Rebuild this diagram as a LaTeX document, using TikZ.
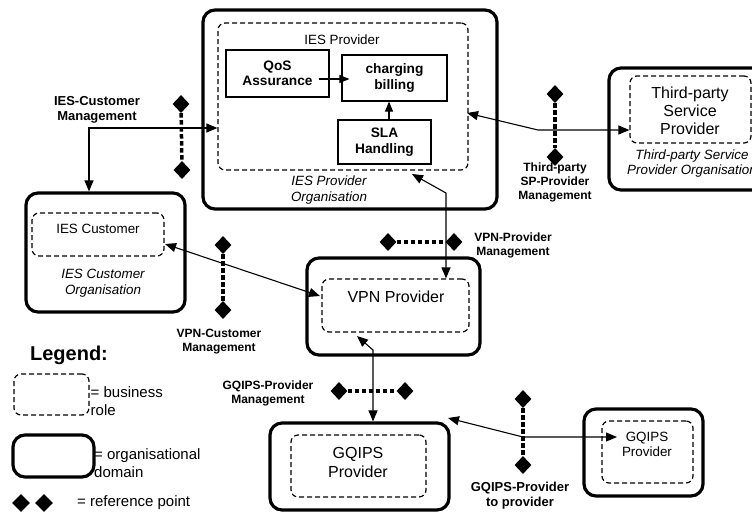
\documentclass[tikz,border=0pt]{standalone}
\usepackage{fontspec}
\setmainfont{Liberation Sans}
\usetikzlibrary{arrows.meta,shapes.geometric,calc}
\begin{document}
\begin{tikzpicture}[x=1pt,y=-1pt,
  orgbox/.style={draw, line width=3.2pt, rounded corners=12pt, inner sep=0pt},
  rolebox/.style={draw, line width=1.2pt, dash pattern=on 5pt off 3pt, rounded corners=7pt, inner sep=0pt},
  funcbox/.style={draw, line width=1.2pt, inner sep=0pt, align=center, font=\fontsize{13.7}{15.5}\selectfont\bfseries},
  txt/.style={inner sep=0pt, align=center, font=\fontsize{13.4}{15.5}\selectfont},
  itxt/.style={inner sep=0pt, align=center, font=\fontsize{13.4}{15.5}\selectfont\itshape},
  bigtxt/.style={inner sep=0pt, align=center, font=\fontsize{16}{18}\selectfont},
  lbl/.style={inner sep=0pt, align=center, font=\fontsize{12}{14}\selectfont\bfseries},
  legtxt/.style={inner sep=0pt, align=left, anchor=west, font=\fontsize{15}{17.5}\selectfont},
  refpt/.style={diamond, fill=black, draw=none, minimum width=17pt, minimum height=18pt, inner sep=0pt},
  refline/.style={line width=3.5pt, dash pattern=on 4.5pt off 2.5pt},
  arr/.style={line width=1.1pt, {Triangle[length=11pt,width=9pt]}-{Triangle[length=11pt,width=9pt]}},
  sarr/.style={line width=1.1pt, -{Triangle[length=10pt,width=8pt]}}
]
\useasboundingbox (0,0) rectangle (752,520);

% ---------- IES Provider organisation ----------
\node[orgbox, minimum width=294pt, minimum height=199pt] (iesorg) at (350,109.5) {};
\node[rolebox, minimum width=250pt, minimum height=147pt] (iesin) at (343,96.5) {};
\node[txt] (iesname) at (342,40) {IES Provider};
\node[funcbox, minimum width=103pt, minimum height=47pt] (qos) at (277.5,73.5) {QoS\\Assurance};
\node[funcbox, minimum width=105pt, minimum height=46pt] (chg) at (394.5,78) {charging\\billing};
\node[funcbox, minimum width=93pt, minimum height=44pt] (sla) at (384.5,142) {SLA\\Handling};
\node[itxt] (iesorgname) at (329,190) {IES Provider\\Organisation};
\draw[sarr] ($(qos.east)+(-11,5.5)$) -- ($(chg.west)+(8,1)$);
\draw[sarr] ($(sla.north)+(4.5,0)$) -- ($(chg.south)+(-5.5,0)$);

% ---------- IES Customer organisation ----------
\node[orgbox, minimum width=159pt, minimum height=119pt] (custorg) at (105.5,252.5) {};
\node[rolebox, minimum width=132pt, minimum height=43pt] (custin) at (98,234.5) {};
\node[txt] (custname) at (98,229) {IES Customer};
\node[itxt] (custorgname) at (103,283) {IES Customer\\Organisation};

% ---------- VPN Provider ----------
\node[orgbox, minimum width=173pt, minimum height=97pt] (vpnorg) at (393.5,306.5) {};
\node[rolebox, minimum width=147pt, minimum height=53pt] (vpnin) at (395.5,305.5) {};
\node[bigtxt] (vpnname) at (396,297) {VPN Provider};

% ---------- Third-party Service Provider ----------
\node[orgbox, minimum width=166pt, minimum height=122pt] (tporg) at (692,129) {};
\node[rolebox, minimum width=121pt, minimum height=67pt] (tpin) at (690.5,109.5) {};
\node[bigtxt] (tpname) at (690,111) {Third-party\\Service\\Provider};
\node[itxt] (tporgname) at (692,163.5) {Third-party Service\\Provider Organisation};

% ---------- GQIPS Providers ----------
\node[orgbox, minimum width=179pt, minimum height=87pt] (gqorg) at (359.5,466.5) {};
\node[rolebox, minimum width=135pt, minimum height=62pt] (gqin) at (358.5,466) {};
\node[bigtxt, font=\fontsize{16}{19}\selectfont] (gqname) at (358,462.5) {GQIPS\\Provider};

\node[orgbox, minimum width=119pt, minimum height=87pt] (gq2org) at (643.5,452.5) {};
\node[rolebox, minimum width=91pt, minimum height=62pt] (gq2in) at (647.5,452) {};
\node[txt] (gq2name) at (647,444.5) {GQIPS\\Provider};

% ---------- Reference points ----------
\node[refpt] (rpA1) at (181,104) {};
\node[refpt] (rpA2) at (182,170) {};
\draw[refline] (rpA1) -- (rpA2);
\node[lbl, font=\fontsize{13}{15}\selectfont\bfseries] (lblA) at (97,110) {IES-Customer\\Management};

\node[refpt] (rpB1) at (555,94) {};
\node[refpt] (rpB2) at (555,157) {};
\draw[refline] (rpB1) -- (rpB2);
\node[lbl] (lblB) at (555,182) {Third-party\\SP-Provider\\Management};

\node[refpt] (rpC1) at (388,242) {};
\node[refpt] (rpC2) at (454,242) {};
\draw[refline] (rpC1) -- (rpC2);
\node[lbl] (lblC) at (513,245) {VPN-Provider\\Management};

\node[refpt] (rpD1) at (223,245) {};
\node[refpt] (rpD2) at (223,310) {};
\draw[refline] (rpD1) -- (rpD2);
\node[lbl] (lblD) at (219,341.5) {VPN-Customer\\Management};

\node[refpt] (rpE1) at (339,391) {};
\node[refpt] (rpE2) at (405,391) {};
\draw[refline] (rpE1) -- (rpE2);
\node[lbl] (lblE) at (268,393.5) {GQIPS-Provider\\Management};

\node[refpt] (rpF1) at (523,399) {};
\node[refpt] (rpF2) at (523,465) {};
\draw[refline] (rpF1) -- (rpF2);
\node[lbl, font=\fontsize{13}{15}\selectfont\bfseries] (lblF) at (520,495.5) {GQIPS-Provider\\to provider};

% ---------- Connectors ----------
\coordinate (cA) at (89,128);
\draw[arr] (custorg.north -| cA) -- (cA) -- (iesin.west |- cA);

\coordinate (tB) at (467,113);
\coordinate (cB) at (538,130);
\draw[arr] (tB) -- (cB) -- (tpin.west |- cB);

\coordinate (tC) at (412,174);
\coordinate (cC) at (446,193);
\draw[arr] (tC) -- (cC) -- (vpnin.north -| cC);

\coordinate (tD1) at (165,244);
\coordinate (tD2) at (320,296);
\draw[arr] (tD1) -- (tD2);

\coordinate (tE) at (357,336);
\coordinate (cE) at (373,350);
\draw[arr] (tE) -- (cE) -- (gqorg.north -| cE);

\coordinate (tF1) at (448,418);
\coordinate (cF) at (523,437);
\coordinate (tF2) at (617,437);
\draw[arr] (tF1) -- (cF) -- (tF2);

% ---------- Legend ----------
\node[inner sep=0pt, font=\fontsize{20}{22}\selectfont\bfseries] (legtitle) at (69,355) {Legend:};
\node[rolebox, minimum width=75pt, minimum height=41pt] (legrole) at (51.5,394.5) {};
\node[legtxt] (legroletxt) at (90.5,401) {= business\\role};
\node[orgbox, minimum width=81pt, minimum height=42pt] (legorg) at (53.5,456) {};
\node[legtxt] (legorgtxt) at (94,463) {= organisational\\domain};
\node[refpt, minimum width=18pt, minimum height=18pt] (legrp1) at (21,503) {};
\node[refpt, minimum width=18pt, minimum height=18pt] (legrp2) at (44,503) {};
\node[legtxt] (legrptxt) at (77,503) {= reference point};
\end{tikzpicture}
\end{document}
